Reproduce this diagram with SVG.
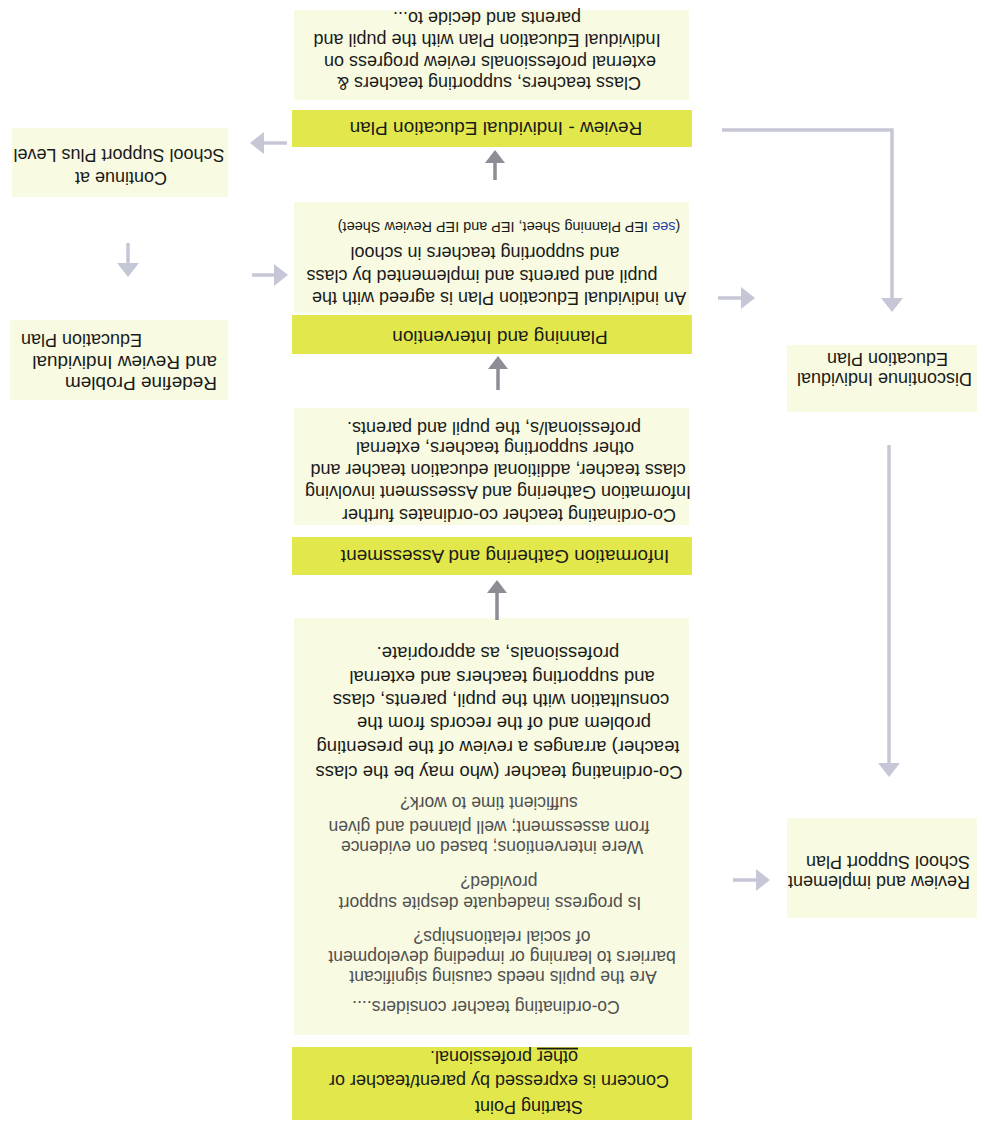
<svg xmlns="http://www.w3.org/2000/svg" width="985" height="1124" viewBox="0 0 985 1124">
<style>
.bar{fill:#e2e84c}
.box{fill:#f8fae2}
text{font-family:"Liberation Sans",Arial,sans-serif;font-size:18px;fill:#1a1a1a;text-anchor:middle}
.g{fill:#505050;font-size:17.5px}
.k{font-size:18.5px}
.t{font-size:19px}
.s{font-size:14.5px}
.m{font-size:19px}
.l{text-anchor:start}
.ad{stroke:#8d8d96;stroke-width:3.5;fill:none}
.al{stroke:#c6c7d6;stroke-width:3.5;fill:none}
</style>
<defs>
<marker id="hd" viewBox="0 0 13 20" refX="4" refY="10" markerWidth="13" markerHeight="20" markerUnits="userSpaceOnUse" orient="auto"><path d="M0,0L13,10L0,20Z" fill="#8d8d96"/></marker>
<marker id="hl" viewBox="0 0 14 22" refX="4" refY="11" markerWidth="14" markerHeight="22" markerUnits="userSpaceOnUse" orient="auto"><path d="M0,0L14,11L0,22Z" fill="#c6c7d6"/></marker>
</defs>
<rect width="985" height="1124" fill="#ffffff"/>
<g transform="rotate(180 492.5 562)">
<g id="start">
<rect class="bar" x="293" y="4" width="400" height="73"/>
<text x="456" y="23.5">Starting Point</text>
<text x="486" y="49.5">Concern is expressed by parent/teacher or</text>
<text x="481" y="73.5"><tspan text-decoration="underline">other</tspan> professional.</text>
</g>
<g id="considers">
<rect class="box" x="296" y="89" width="395" height="417"/>
<text class="g" x="499" y="123.5">Co-ordinating teacher considers....</text>
<text class="g" x="482" y="153.5">Are the pupils needs causing significant</text>
<text class="g" x="483" y="173.5">barriers to learning or impeding development</text>
<text class="g" x="483" y="193.5">of social relationships?</text>
<text class="g" x="495" y="227.5">Is progress inadequate despite support</text>
<text class="g" x="486" y="248.5">provided?</text>
<text class="g" x="493" y="283.5">Were interventions; based on evidence</text>
<text class="g" x="496" y="303.5">from assessment; well planned and given</text>
<text class="g" x="496" y="327.5">sufficient time to work?</text>
<text class="k" x="486" y="358.5">Co-ordinating teacher (who may be the class</text>
<text class="k" x="487" y="383.5">teacher) arranges a review of the presenting</text>
<text class="k" x="481" y="407.5">problem and of the records from the</text>
<text class="k" x="484" y="430.5">consultation with the pupil, parents, class</text>
<text class="k" x="483" y="453.5">and supporting teachers and external</text>
<text class="k" x="487" y="477.5">professionals, as appropriate.</text>
</g>
<g id="info-bar">
<rect class="bar" x="293" y="549" width="400" height="38"/>
<text class="t" x="480" y="574.5">Information Gathering and Assessment</text>
</g>
<g id="info-box">
<rect class="box" x="296" y="599" width="395" height="117"/>
<text x="476" y="615.5">Co-ordinating teacher co-ordinates further</text>
<text x="487" y="638.5">Information Gathering and Assessment involving</text>
<text x="487" y="660.5">class teacher, additional education teacher and</text>
<text x="490" y="682.5">other supporting teachers, external</text>
<text x="491" y="702.5">professional/s, the pupil and parents.</text>
</g>
<g id="plan-bar">
<rect class="bar" x="293" y="770" width="400" height="39"/>
<text class="t" x="485" y="793.5">Planning and Intervention</text>
</g>
<g id="plan-box">
<rect class="box" x="296" y="811" width="395" height="111"/>
<text x="486" y="832.5">An individual Education Plan is agreed with the</text>
<text x="503" y="854.5">pupil and parents and implemented by class</text>
<text x="500" y="877.5">and supporting teachers in school</text>
<text class="s" x="476" y="902">(<tspan fill="#2a44a8">see</tspan> IEP Planning Sheet, IEP and IEP Review Sheet)</text>
</g>
<g id="review-bar">
<rect class="bar" x="293" y="977" width="400" height="37"/>
<text class="t" x="489" y="1002.5">Review - Individual Education Plan</text>
</g>
<g id="review-box">
<rect class="box" x="296" y="1024" width="395" height="90"/>
<text x="496" y="1047.5">Class teachers, supporting teachers &amp;</text>
<text x="495" y="1068.5">external professionals review progress on</text>
<text x="498" y="1090.5">Individual Education Plan with the pupil and</text>
<text x="498" y="1112">parents and decide to...</text>
</g>
<g id="continue">
<rect class="box" x="757" y="927" width="216" height="69"/>
<text x="864" y="952.5">Continue at</text>
<text x="866" y="975.5">School Support Plus Level</text>
</g>
<g id="redefine">
<rect class="box" x="757" y="724" width="218" height="80"/>
<text class="l m" x="768" y="747.5">Redefine Problem</text>
<text class="l m" x="768" y="768.5">and Review Individual</text>
<text class="l" x="843" y="790.5">Education Plan</text>
</g>
<g id="discontinue">
<rect class="box" x="8" y="712" width="190" height="67"/>
<text class="l" x="13" y="751.5">Discontinue Individual</text>
<text class="l" x="37" y="771">Education Plan</text>
</g>
<g id="support-plan">
<rect class="box" x="8" y="206" width="190" height="100"/>
<text class="l" x="15" y="248.5">Review and implement</text>
<text class="l" x="15" y="268.5">School Support Plan</text>
</g>
<g id="connectors">
<line class="ad" x1="488" y1="504" x2="488" y2="535" marker-end="url(#hd)"/>
<line class="ad" x1="487" y1="734" x2="487" y2="759" marker-end="url(#hd)"/>
<line class="ad" x1="490" y1="944" x2="490" y2="965" marker-end="url(#hd)"/>
<line class="al" x1="698" y1="981" x2="725" y2="981" marker-end="url(#hl)"/>
<line class="al" x1="857" y1="881" x2="857" y2="857" marker-end="url(#hl)"/>
<line class="al" x1="733" y1="849" x2="707" y2="849" marker-end="url(#hl)"/>
<path class="al" d="M263,994H93V822" marker-end="url(#hl)"/>
<line class="al" x1="267" y1="826" x2="240" y2="826" marker-end="url(#hl)"/>
<line class="al" x1="96" y1="679" x2="96" y2="357" marker-end="url(#hl)"/>
<line class="al" x1="252" y1="244" x2="225" y2="244" marker-end="url(#hl)"/>
</g>
</g>
</svg>
